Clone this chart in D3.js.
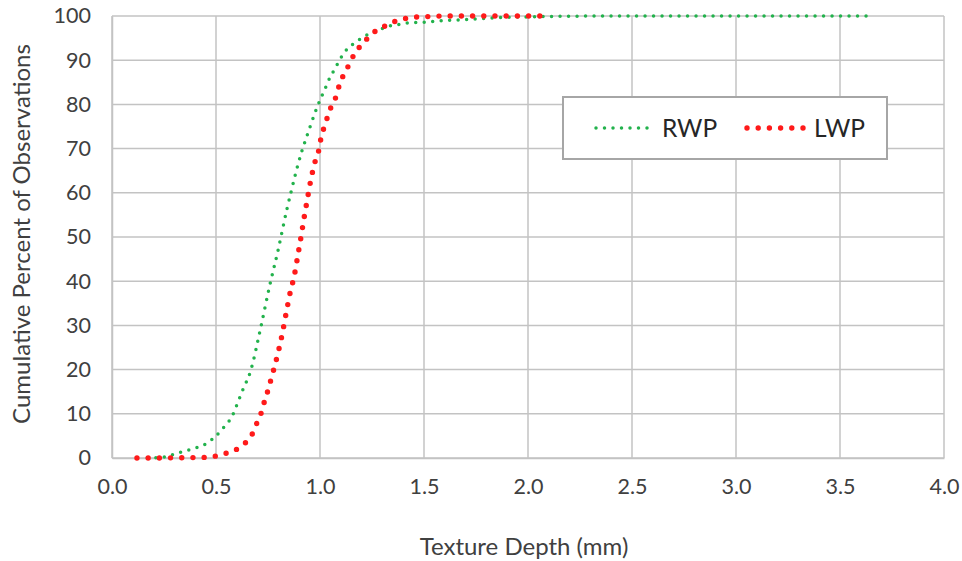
<!DOCTYPE html>
<html>
<head>
<meta charset="utf-8">
<script src="https://cdn.jsdelivr.net/npm/d3@7"></script>
<style>
  html, body { margin: 0; padding: 0; background: #fff; }
  svg { display: block; font-family: Lato, "Open Sans", sans-serif; }
</style>
</head>
<body>
<svg id="chart" width="962" height="561"></svg>
<script>
// Cumulative distribution of texture depth, right and left wheel paths
const rwpDepth = [0.17, 0.21, 0.25, 0.32, 0.39, 0.455, 0.50, 0.54, 0.58, 0.60, 0.627, 0.667, 0.715, 0.76, 0.795, 0.84, 0.864, 0.888, 0.912, 0.933, 0.955, 0.976, 1.0, 1.024, 1.045, 1.072, 1.096, 1.125, 1.16, 1.20, 1.25, 1.29, 1.34, 1.38, 1.42, 1.50, 1.58, 1.66, 1.74, 1.85, 2.0, 2.2, 2.5, 3.0, 3.63];
const rwpPercent = [0, 0.05, 0.2, 1.2, 2.1, 3.3, 5.0, 7.1, 9.7, 12.0, 15.2, 19.8, 29.5, 39.4, 46.3, 56.1, 60.8, 65.3, 69.3, 72.3, 75.3, 78.1, 81.0, 83.5, 85.8, 88.1, 90.2, 92.2, 93.7, 95.0, 96.3, 97.0, 97.8, 98.1, 98.4, 98.6, 98.9, 99.1, 99.3, 99.6, 99.8, 99.95, 100, 100, 100];

const lwpDepth = [0.12, 0.2, 0.3, 0.4, 0.45, 0.50, 0.547, 0.587, 0.62, 0.647, 0.672, 0.688, 0.705, 0.72, 0.731, 0.744, 0.768, 0.792, 0.816, 0.837, 0.856, 0.877, 0.893, 0.909, 0.923, 0.939, 0.955, 0.976, 0.992, 1.008, 1.024, 1.045, 1.072, 1.096, 1.131, 1.168, 1.192, 1.216, 1.244, 1.272, 1.308, 1.345, 1.393, 1.44, 1.49, 1.6, 1.8, 2.1];
const lwpPercent = [0, 0, 0.05, 0.1, 0.15, 0.45, 1.06, 1.66, 2.6, 3.7, 5.2, 7.1, 8.7, 10.6, 12.5, 14.4, 18.4, 22.6, 27.5, 32.7, 37.3, 41.4, 45.7, 50.1, 54.2, 58.5, 62.7, 67.0, 69.2, 73.1, 75.3, 78.5, 81.1, 84.8, 88.2, 91.6, 93.1, 94.4, 95.5, 96.8, 97.6, 98.5, 99.2, 99.7, 99.8, 100, 100, 100];

const xTicks = [0, 0.5, 1.0, 1.5, 2.0, 2.5, 3.0, 3.5, 4.0];
const yTicks = [0, 10, 20, 30, 40, 50, 60, 70, 80, 90, 100];

const seriesNames = ["RWP", "LWP"];
const seriesColors = ["#22b24c", "#ff1a1a"];

const svg = d3.select("#chart");
const margin = { left: 112, right: 18, top: 16, bottom: 103 };
const W = 962, H = 561;

const x = d3.scaleLinear().domain([0, 4]).range([margin.left, W - margin.right]);
const y = d3.scaleLinear().domain([0, 100]).range([H - margin.bottom, margin.top]);

const gridColor = "#c3c3c3";
const textColor = "#404040";

// Gridlines
svg.append("g").selectAll("line.v").data(xTicks).join("line")
  .attr("x1", d => x(d)).attr("x2", d => x(d))
  .attr("y1", y(0)).attr("y2", y(100))
  .attr("stroke", gridColor).attr("stroke-width", 1.5);
svg.append("g").selectAll("line.h").data(yTicks).join("line")
  .attr("x1", x(0)).attr("x2", x(4))
  .attr("y1", d => y(d)).attr("y2", d => y(d))
  .attr("stroke", gridColor).attr("stroke-width", 1.5);

// Axes
const xAxis = svg.append("g")
  .attr("transform", `translate(0,${y(0)})`)
  .call(d3.axisBottom(x).tickValues(xTicks).tickFormat(d3.format(".1f")).tickSize(0).tickPadding(21));
const yAxis = svg.append("g")
  .attr("transform", `translate(${x(0)},0)`)
  .call(d3.axisLeft(y).tickValues(yTicks).tickSize(0).tickPadding(21));
[xAxis, yAxis].forEach(g => {
  g.select(".domain").attr("stroke", gridColor).attr("stroke-width", 1.5);
  g.selectAll("text").attr("fill", textColor).style("font-size", "21.5px").style("font-family", "Lato, 'Open Sans', sans-serif");
});

// Axis titles
svg.append("text")
  .attr("x", 524).attr("y", 555)
  .attr("text-anchor", "middle")
  .attr("fill", textColor).style("font-size", "24px")
  .text("Texture Depth (mm)");
svg.append("text")
  .attr("transform", `translate(30,234) rotate(-90)`)
  .attr("text-anchor", "middle")
  .attr("fill", textColor).style("font-size", "24px")
  .text("Cumulative Percent of Observations");

// Series lines (round-dot pattern)
const line = d3.line().x(d => x(d[0])).y(d => y(d[1])).curve(d3.curveMonotoneX);
const rwp = d3.zip(rwpDepth, rwpPercent);
const lwp = d3.zip(lwpDepth, lwpPercent);
const styles = [
  { width: 3.5, dash: "0 8.5" },
  { width: 5.4, dash: "0 11.2" }
];

[rwp, lwp].forEach((data, i) => {
  svg.append("path")
    .datum(data)
    .attr("d", line)
    .attr("fill", "none")
    .attr("stroke", seriesColors[i])
    .attr("stroke-width", styles[i].width)
    .attr("stroke-linecap", "round")
    .attr("stroke-dasharray", styles[i].dash);
});

// Legend
const lg = svg.append("g");
lg.append("rect")
  .attr("x", 563).attr("y", 97).attr("width", 324).attr("height", 62)
  .attr("fill", "#fff").attr("stroke", "#a6a6a6").attr("stroke-width", 2);
const legendItems = [
  { x0: 596, x1: 652, tx: 662 },
  { x0: 747, x1: 805, tx: 814 }
];
legendItems.forEach((it, i) => {
  lg.append("line")
    .attr("x1", it.x0).attr("x2", it.x1 + 0.5)
    .attr("y1", 128).attr("y2", 128)
    .attr("stroke", seriesColors[i])
    .attr("stroke-width", styles[i].width)
    .attr("stroke-linecap", "round")
    .attr("stroke-dasharray", styles[i].dash);
  lg.append("text")
    .attr("x", it.tx).attr("y", 137)
    .attr("fill", "#262626").style("font-size", "24.5px")
    .text(seriesNames[i]);
});
</script>
</body>
</html>
